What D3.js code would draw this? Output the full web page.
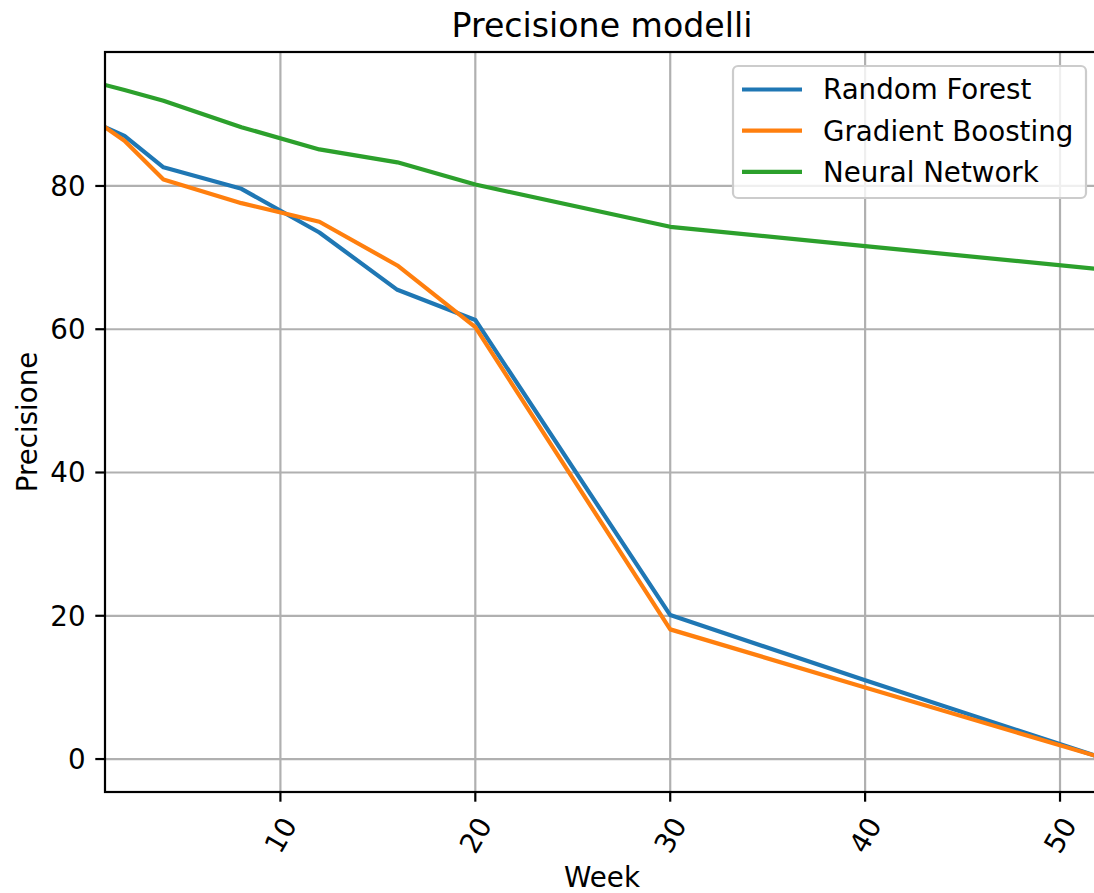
<!DOCTYPE html>
<html>
<head>
<meta charset="utf-8">
<script src="https://cdn.jsdelivr.net/npm/d3@7"></script>
<style>
  body { margin: 0; background: #fff; }
  svg { display: block; font-family: "DejaVu Sans", sans-serif; }
</style>
</head>
<body>
<svg id="chart"></svg>
<script>
// Data
const weeks = [1, 2, 4, 8, 12, 16, 20, 30, 40, 52];
const randomForest = [88.2, 87.0, 82.6, 79.6, 73.5, 65.5, 61.3, 20.1, 11.0, 0.3];
const gradientBoosting = [88.2, 86.3, 80.9, 77.6, 75.0, 68.9, 60.3, 18.1, 10.0, 0.3];
const neuralNetwork = [94.1, 93.4, 91.9, 88.2, 85.1, 83.3, 80.2, 74.3, 71.6, 68.4];
const seriesNames = ["Random Forest", "Gradient Boosting", "Neural Network"];
const seriesColors = ["#1f77b4", "#ff7f0e", "#2ca02c"];
const xTicks = [10, 20, 30, 40, 50];
const yTicks = [0, 20, 40, 60, 80];

const width = 1094;
const height = 893;
const margin = { top: 52, right: -5, bottom: 101, left: 105 };

const svg = d3.select("#chart")
    .attr("width", width)
    .attr("height", height);

const x = d3.scaleLinear()
    .domain([1, 52])
    .range([margin.left, width - margin.right]);

const y = d3.scaleLinear()
    .domain([-4.6, 98.7])
    .range([height - margin.bottom, margin.top]);

const plotBottom = height - margin.bottom;
const plotRight = width - margin.right;

// Grid
svg.append("g").selectAll("line")
    .data(xTicks)
    .join("line")
    .attr("x1", d => x(d)).attr("x2", d => x(d))
    .attr("y1", margin.top).attr("y2", plotBottom)
    .attr("stroke", "#b0b0b0").attr("stroke-width", 2.2);

svg.append("g").selectAll("line")
    .data(yTicks)
    .join("line")
    .attr("x1", margin.left).attr("x2", plotRight)
    .attr("y1", d => y(d)).attr("y2", d => y(d))
    .attr("stroke", "#b0b0b0").attr("stroke-width", 2.2);

// Lines
const allSeries = [randomForest, gradientBoosting, neuralNetwork];
const line = d3.line()
    .x((d, i) => x(weeks[i]))
    .y(d => y(d));

svg.append("defs").append("clipPath").attr("id", "clip")
    .append("rect")
    .attr("x", margin.left).attr("y", margin.top)
    .attr("width", plotRight - margin.left).attr("height", plotBottom - margin.top);

svg.append("g").attr("clip-path", "url(#clip)")
    .selectAll("path")
    .data(allSeries)
    .join("path")
    .attr("d", line)
    .attr("fill", "none")
    .attr("stroke", (d, i) => seriesColors[i])
    .attr("stroke-width", 4.2)
    .attr("stroke-linejoin", "round")
    .attr("stroke-linecap", "square");

// Spines
svg.append("rect")
    .attr("x", margin.left).attr("y", margin.top)
    .attr("width", plotRight - margin.left).attr("height", plotBottom - margin.top)
    .attr("fill", "none").attr("stroke", "#000").attr("stroke-width", 2.2);

// Y axis ticks and labels
const yAxis = svg.append("g");
yAxis.selectAll("line")
    .data(yTicks)
    .join("line")
    .attr("x1", margin.left - 9.7).attr("x2", margin.left)
    .attr("y1", d => y(d)).attr("y2", d => y(d))
    .attr("stroke", "#000").attr("stroke-width", 2.2);
yAxis.selectAll("text")
    .data(yTicks)
    .join("text")
    .attr("x", margin.left - 19.4)
    .attr("y", d => y(d))
    .attr("dy", "0.36em")
    .attr("text-anchor", "end")
    .attr("font-size", 27.7)
    .text(d => d);

// X axis ticks and labels
const xAxis = svg.append("g");
xAxis.selectAll("line")
    .data(xTicks)
    .join("line")
    .attr("x1", d => x(d)).attr("x2", d => x(d))
    .attr("y1", plotBottom).attr("y2", plotBottom + 9.7)
    .attr("stroke", "#000").attr("stroke-width", 2.2);
xAxis.selectAll("text")
    .data(xTicks)
    .join("text")
    .attr("transform", d => `translate(${x(d)},${plotBottom + 43}) rotate(-60)`)
    .attr("dy", "0.36em")
    .attr("text-anchor", "middle")
    .attr("font-size", 27.7)
    .text(d => d);

// Axis labels and title
svg.append("text")
    .attr("x", (margin.left + 1099) / 2)
    .attr("y", 887)
    .attr("text-anchor", "middle")
    .attr("font-size", 27.7)
    .text("Week");

svg.append("text")
    .attr("transform", `translate(37,${(margin.top + plotBottom) / 2}) rotate(-90)`)
    .attr("text-anchor", "middle")
    .attr("font-size", 27.7)
    .text("Precisione");

svg.append("text")
    .attr("x", (margin.left + 1099) / 2)
    .attr("y", 37)
    .attr("text-anchor", "middle")
    .attr("font-size", 33.2)
    .text("Precisione modelli");

// Legend
const legend = svg.append("g");
legend.append("rect")
    .attr("x", 733).attr("y", 66)
    .attr("width", 353).attr("height", 132)
    .attr("rx", 5)
    .attr("fill", "#fff").attr("fill-opacity", 0.8)
    .attr("stroke", "#cccccc").attr("stroke-width", 2.2);

const rows = legend.selectAll("g.row")
    .data(seriesNames)
    .join("g")
    .attr("class", "row")
    .attr("transform", (d, i) => `translate(0,${89.5 + i * 41.2})`);
rows.append("line")
    .attr("x1", 742).attr("x2", 802)
    .attr("stroke", (d, i) => seriesColors[i])
    .attr("stroke-width", 4.2);
rows.append("text")
    .attr("x", 823)
    .attr("dy", "0.36em")
    .attr("font-size", 27.7)
    .text(d => d);
</script>
</body>
</html>
